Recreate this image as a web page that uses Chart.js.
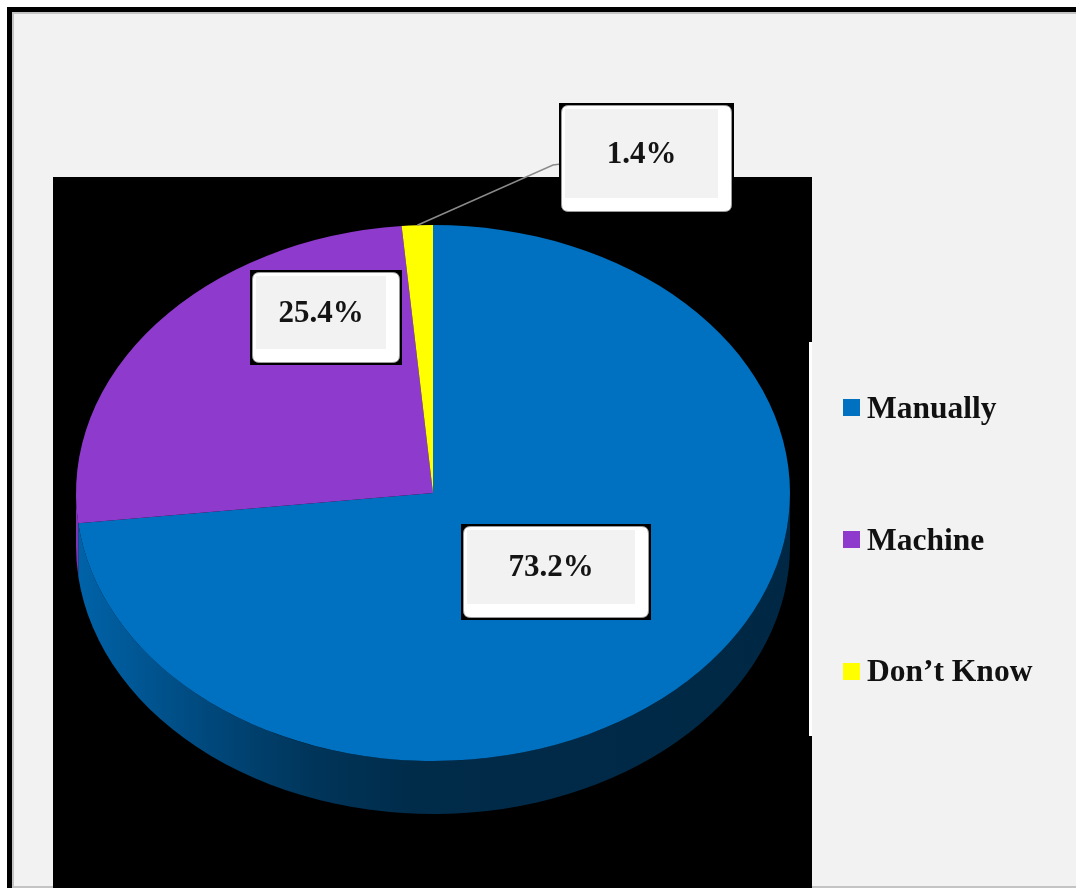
<!DOCTYPE html>
<html>
<head>
<meta charset="utf-8">
<title>Manually vs Machine</title>
<script src="https://cdn.jsdelivr.net/npm/chart.js@4.4.1/dist/chart.umd.min.js"></script>
<style>
  html, body { margin: 0; padding: 0; background: #fff; width: 1076px; height: 888px; overflow: hidden; }
  #frame {
    position: absolute; left: 7px; top: 7px; width: 1090px; height: 881px;
    box-sizing: border-box; background: #000; padding: 5px 0 0 5px;
  }
  #frameInner {
    width: 100%; height: 100%; box-sizing: border-box; background: #f2f2f2;
    border-left: 2px solid #c4c4c4; border-top: 2px solid #c4c4c4; border-bottom: 2px solid #c4c4c4;
  }
  #plotBg { position: absolute; left: 53px; top: 177px; width: 759px; height: 711px; background: #000; }
  #legendPanel {
    position: absolute; left: 809px; top: 342px; width: 300px; height: 394px;
    background: #f2f2f2; border-left: 3px solid #fff; box-sizing: border-box;
  }
  #chart { position: absolute; left: 0; top: 0; }
  .legBox { position: absolute; width: 17px; height: 17px; }
  .legText {
    position: absolute; font: bold 31.5px "Liberation Serif", "Times New Roman", serif;
    line-height: 32px; color: #111; white-space: nowrap;
  }
</style>
</head>
<body>
<div id="frame"><div id="frameInner"></div></div>
<div id="plotBg"></div>
<div id="legendPanel"></div>
<canvas id="chart" width="1076" height="888"></canvas>
<div id="legend"></div>
<script>
const categories = ['Manually', 'Machine', 'Don\u2019t Know'];
const shares = [73.2, 25.4, 1.4];
const sliceColors = ['#0070c0', '#8e3acd', '#ffff00'];
const valueLabels = shares.map(v => v.toFixed(1) + '%');

// pie face is squashed vertically and given a wall to look tilted
const TILT = 268 / 357;
const DEPTH = 53;

// callout boxes (outer black rect) for each slice
const labelBoxes = [
    { x: 461, y: 524, w: 190, h: 96 },
    { x: 250, y: 270, w: 152, h: 95 },
    { x: 559, y: 103, w: 175, h: 111 }
];

function shade(hex, f) {
    const n = parseInt(hex.slice(1), 16);
    const r = Math.round(((n >> 16) & 255) * f);
    const g = Math.round(((n >> 8) & 255) * f);
    const b = Math.round((n & 255) * f);
    return `rgb(${r}, ${g}, ${b})`;
}

function roundRectPath(ctx, x, y, w, h, r) {
    ctx.beginPath();
    ctx.moveTo(x + r, y);
    ctx.lineTo(x + w - r, y);
    ctx.quadraticCurveTo(x + w, y, x + w, y + r);
    ctx.lineTo(x + w, y + h - r);
    ctx.quadraticCurveTo(x + w, y + h, x + w - r, y + h);
    ctx.lineTo(x + r, y + h);
    ctx.quadraticCurveTo(x, y + h, x, y + h - r);
    ctx.lineTo(x, y + r);
    ctx.quadraticCurveTo(x, y, x + r, y);
    ctx.closePath();
}

const tiltPlugin = {
    id: 'tilt',
    beforeDatasetsDraw(chart) {
        const ctx = chart.ctx;
        const arcs = chart.getDatasetMeta(0).data;
        const cx = arcs[0].x, cy = arcs[0].y, r = arcs[0].outerRadius;
        ctx.save();
        ctx.translate(cx, cy);
        ctx.scale(1, TILT);
        ctx.translate(-cx, -cy);

        // front wall, only the part facing the viewer (0..PI)
        const d = DEPTH / TILT;
        arcs.forEach((arc, i) => {
            [[0, Math.PI], [2 * Math.PI, 3 * Math.PI]].forEach(([lo, hi]) => {
                const a = Math.max(arc.startAngle, lo);
                const b = Math.min(arc.endAngle, hi);
                if (b <= a) return;
                const grad = ctx.createLinearGradient(cx - r, 0, cx + r, 0);
                const c = sliceColors[i];
                grad.addColorStop(0, shade(c, 0.88));
                grad.addColorStop(0.18, shade(c, 0.65));
                grad.addColorStop(0.33, shade(c, 0.47));
                grad.addColorStop(0.48, shade(c, 0.38));
                grad.addColorStop(1, shade(c, 0.36));
                ctx.beginPath();
                ctx.arc(cx, cy, r, a, b);
                ctx.lineTo(cx + r * Math.cos(b), cy + d + r * Math.sin(b));
                ctx.arc(cx, cy + d, r, b, a, true);
                ctx.closePath();
                ctx.fillStyle = grad;
                ctx.fill();
            });
        });
    },
    afterDatasetsDraw(chart) {
        chart.ctx.restore();
    }
};

const calloutPlugin = {
    id: 'callouts',
    afterDraw(chart) {
        const ctx = chart.ctx;
        const arcs = chart.getDatasetMeta(0).data;
        const cx = arcs[0].x, cy = arcs[0].y, r = arcs[0].outerRadius;

        // leader line for the small slice
        const small = arcs[2];
        const mid = (small.startAngle + small.endAngle) / 2;
        const box = labelBoxes[2];
        ctx.save();
        ctx.strokeStyle = '#8a8a8a';
        ctx.lineWidth = 1.5;
        ctx.beginPath();
        ctx.moveTo(cx + r * Math.cos(mid), cy + r * Math.sin(mid) * TILT);
        ctx.lineTo(box.x - 6, box.y + 62);
        ctx.lineTo(box.x + 2, box.y + 61);
        ctx.stroke();
        ctx.restore();

        valueLabels.forEach((txt, i) => {
            const b = labelBoxes[i];
            ctx.save();
            ctx.fillStyle = '#000';
            ctx.fillRect(b.x, b.y, b.w, b.h);
            roundRectPath(ctx, b.x + 2.5, b.y + 2.5, b.w - 5, b.h - 5, 7);
            ctx.fillStyle = '#fff';
            ctx.fill();
            ctx.strokeStyle = '#9a9a9a';
            ctx.lineWidth = 1;
            ctx.stroke();
            ctx.fillStyle = '#f2f2f2';
            ctx.fillRect(b.x + 6, b.y + 6, b.w - 22, b.h - 22);
            ctx.fillStyle = '#141414';
            ctx.font = 'bold 31px "Liberation Serif", "Times New Roman", serif';
            ctx.textAlign = 'center';
            ctx.textBaseline = 'middle';
            ctx.fillText(txt, b.x + 6 + (b.w - 22) / 2, b.y + 6 + (b.h - 22) / 2 + 1);
            ctx.restore();
        });
    }
};

const chart = new Chart(document.getElementById('chart').getContext('2d'), {
    type: 'pie',
    data: {
        labels: categories,
        datasets: [{
            data: shares,
            backgroundColor: sliceColors,
            borderWidth: 0,
            hoverOffset: 0
        }]
    },
    options: {
        responsive: false,
        animation: false,
        events: [],
        devicePixelRatio: 1,
        layout: { padding: { left: 76, right: 286, top: 136, bottom: 38 } },
        plugins: {
            legend: { display: false },
            tooltip: { enabled: false }
        }
    },
    plugins: [tiltPlugin, calloutPlugin]
});

// legend on the right, built from the chart's own legend items
const legendEl = document.getElementById('legend');
const items = chart.options.plugins.legend.labels.generateLabels(chart);
items.forEach((item, i) => {
    const box = document.createElement('div');
    box.className = 'legBox';
    box.style.left = '843px';
    box.style.top = (399 + i * 132) + 'px';
    box.style.background = item.fillStyle;
    legendEl.appendChild(box);

    const txt = document.createElement('div');
    txt.className = 'legText';
    txt.style.left = '867px';
    txt.style.top = (392 + i * 131.5) + 'px';
    txt.textContent = item.text;
    legendEl.appendChild(txt);
});
</script>
</body>
</html>
